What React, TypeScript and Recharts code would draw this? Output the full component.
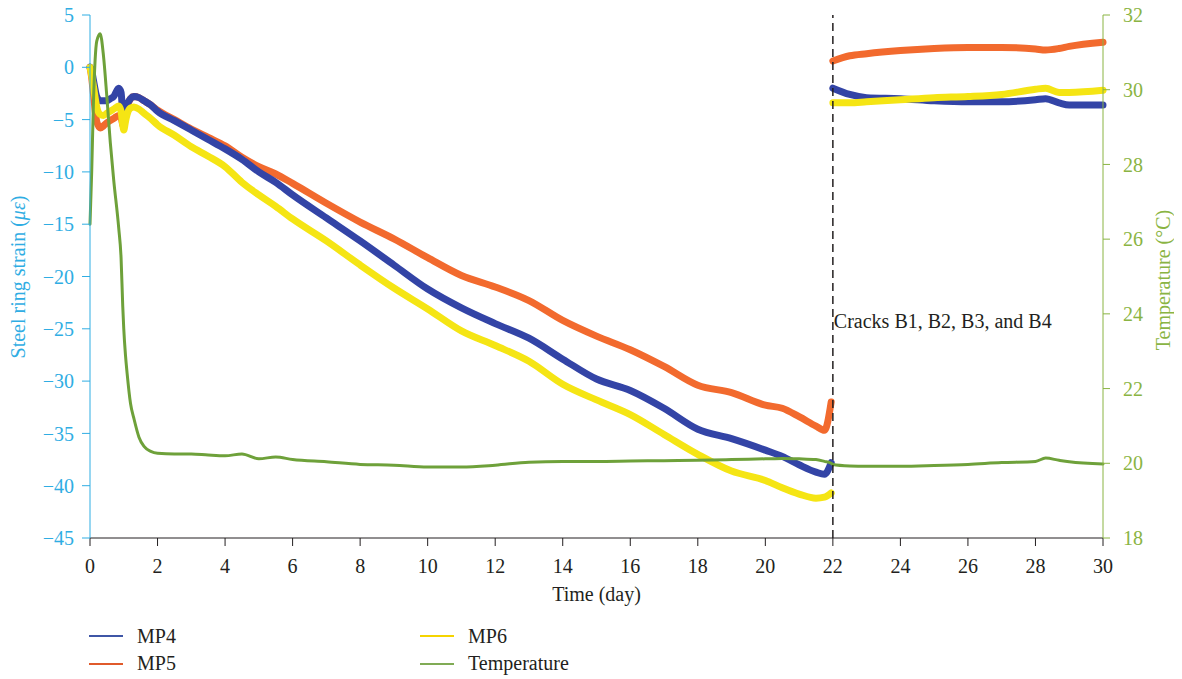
import React from "react";
import { LineChart, Line, XAxis, YAxis, ReferenceLine, Legend } from "recharts";

const times = [0, 0.05, 0.1, 0.2, 0.3, 0.4, 0.5, 0.6, 0.7, 0.85, 0.92, 0.97, 1.0, 1.05, 1.1, 1.2, 1.3, 1.45, 1.6, 1.8, 2, 2.5, 3, 3.5, 4, 4.5, 5, 5.5, 6, 7, 8, 9, 10, 11, 12, 13, 14, 15, 16, 17, 18, 19, 20, 20.5, 21, 21.5, 21.75, 21.95, 21.98, 22.0, 22.5, 23, 24, 25, 26, 27, 28, 28.3, 28.7, 29, 30];

const mp4 = [0, -0.3, -1.2, -2.8, -3.2, -3.2, -3.2, -3.0, -2.8, -2.0, -2.4, -4.5, -5.0, -4.3, -3.6, -3.0, -2.8, -2.9, -3.2, -3.6, -4.2, -5.1, -6.0, -6.9, -7.8, -8.8, -10.0, -11.0, -12.2, -14.4, -16.6, -18.9, -21.2, -23.0, -24.5, -25.9, -27.9, -29.8, -30.9, -32.6, -34.6, -35.5, -36.6, -37.2, -38.0, -38.7, -38.9, -37.8, null, -2.0, -2.6, -2.9, -3.0, -3.2, -3.3, -3.3, -3.1, -3.0, -3.4, -3.6, -3.6];

const mp5 = [0, -1.0, -2.5, -5.2, -5.8, -5.6, -5.3, -5.1, -4.9, -4.6, -4.8, -5.5, -5.7, -4.6, -3.8, -3.0, -2.8, -2.9, -3.2, -3.6, -4.1, -5.0, -5.9, -6.7, -7.5, -8.6, -9.5, -10.2, -11.1, -13.0, -14.8, -16.4, -18.2, -19.9, -21.0, -22.3, -24.2, -25.7, -27.0, -28.6, -30.4, -31.1, -32.3, -32.6, -33.4, -34.3, -34.7, -32.0, null, 0.6, 1.1, 1.3, 1.6, 1.8, 1.9, 1.9, 1.75, 1.65, 1.8, 2.0, 2.4];

const mp6 = [0, -0.8, -1.8, -3.8, -4.5, -4.6, -4.4, -4.2, -4.0, -3.7, -4.2, -5.5, -6.0, -5.2, -4.5, -3.9, -3.8, -4.0, -4.4, -4.9, -5.5, -6.5, -7.6, -8.5, -9.5, -11.0, -12.2, -13.3, -14.5, -16.6, -18.9, -21.1, -23.1, -25.2, -26.6, -28.1, -30.3, -31.8, -33.2, -35.1, -37.0, -38.6, -39.5, -40.2, -40.8, -41.2, -41.1, -40.7, null, -3.4, -3.4, -3.3, -3.1, -2.9, -2.8, -2.6, -2.1, -2.0, -2.4, -2.4, -2.2];

const temperature = [26.4, 27.8, 29.6, 31.3, 31.5, 30.9, 29.8, 28.6, 27.6, 26.3, 25.5, 24.2, 23.6, 22.9, 22.4, 21.6, 21.2, 20.7, 20.45, 20.32, 20.27, 20.25, 20.25, 20.22, 20.2, 20.25, 20.12, 20.17, 20.1, 20.04, 19.97, 19.95, 19.9, 19.9, 19.95, 20.03, 20.05, 20.05, 20.06, 20.07, 20.08, 20.1, 20.12, 20.13, 20.12, 20.1, 20.05, 20.0, 19.98, 19.97, 19.93, 19.92, 19.92, 19.94, 19.97, 20.02, 20.05, 20.14, 20.08, 20.04, 19.98];

const xTicks = [0, 2, 4, 6, 8, 10, 12, 14, 16, 18, 20, 22, 24, 26, 28, 30];
const strainTicks = [-45, -40, -35, -30, -25, -20, -15, -10, -5, 0, 5];
const tempTicks = [18, 20, 22, 24, 26, 28, 30, 32];
const crackDay = 22;
const crackText = "Cracks B1, B2, B3, and B4";

const seriesNames = ["MP4", "MP5", "MP6", "Temperature"];
const lineColors = { MP4: "#3344a6", MP5: "#f26a2e", MP6: "#f5e514", Temperature: "#6ea13a" };
const legendColors = { MP4: "#3f56a6", MP5: "#e05a2b", MP6: "#f5d400", Temperature: "#80ab55" };

const rows = times.map((t, i) => ({
  time: t,
  MP4: mp4[i],
  MP5: mp5[i],
  MP6: mp6[i],
  Temperature: temperature[i],
}));

const FONT = "'Liberation Serif', 'DejaVu Serif', serif";
const BLUE = "#2fade3";
const GREEN = "#8ab443";
const DARK = "#231f20";

const fmtMinus = (v: number) => String(v).replace("-", "\u2212");

const LegendContent = () => {
  const pos = [
    { left: 81, top: 28 },
    { left: 81, top: 55.5 },
    { left: 412, top: 28 },
    { left: 412, top: 55.5 },
  ];
  return (
    <div style={{ position: "relative", width: 1166, height: 71 }}>
      {seriesNames.map((n, i) => (
        <div
          key={n}
          style={{
            position: "absolute",
            left: pos[i].left,
            top: pos[i].top - 13,
            height: 26,
            display: "flex",
            alignItems: "center",
            fontFamily: FONT,
            fontSize: 20,
            color: DARK,
            whiteSpace: "nowrap",
          }}
        >
          <svg width={34} height={4} style={{ marginRight: 14 }}>
            <line x1={0} y1={2} x2={34} y2={2} stroke={(legendColors as any)[n]} strokeWidth={2} />
          </svg>
          <span>{n}</span>
        </div>
      ))}
    </div>
  );
};

const CrackLabel = (props: any) => {
  const vb = props.viewBox || { x: 0, y: 0 };
  return (
    <text x={vb.x + 1} y={vb.y + 313} fill={DARK} fontFamily={FONT} fontSize={20}>
      {crackText}
    </text>
  );
};

const LeftAxisLabel = () => (
  <text
    x={17}
    y={277}
    transform="rotate(-90 17 277)"
    textAnchor="middle"
    fill={BLUE}
    fontFamily={FONT}
    fontSize={20}
  >
    Steel ring strain (<tspan fontStyle="italic">με</tspan>)
  </text>
);

const RightAxisLabel = () => (
  <text
    x={1162}
    y={280}
    transform="rotate(-90 1162 280)"
    textAnchor="middle"
    fill={GREEN}
    fontFamily={FONT}
    fontSize={20}
  >
    Temperature (°C)
  </text>
);

const XAxisLabel = () => (
  <text x={588.5} y={601} textAnchor="middle" fill={DARK} fontFamily={FONT} fontSize={20}>
    Time (day)
  </text>
);

const lineCommon = {
  type: "monotone" as const,
  strokeLinejoin: "round" as const,
  strokeLinecap: "round" as const,
  dot: false,
  activeDot: false,
  connectNulls: false,
  isAnimationActive: false,
};

export default function App() {
  return (
    <div style={{ marginTop: -8, width: 1166, height: 679 }}>
      <LineChart
        width={1166}
        height={679}
        data={rows}
        margin={{ top: 15, right: 0, bottom: 0, left: 0 }}
      >
        <XAxis
          dataKey="time"
          type="number"
          domain={[0, 30]}
          ticks={xTicks}
          interval={0}
          height={70}
          stroke={DARK}
          tickSize={8}
          tickMargin={13}
          tick={{ fill: DARK, fontSize: 20, fontFamily: FONT }}
          label={<XAxisLabel />}
        />
        <YAxis
          yAxisId="left"
          domain={[-45, 5]}
          ticks={strainTicks}
          interval={0}
          width={82}
          stroke={BLUE}
          tickSize={8}
          tickMargin={8}
          tickFormatter={fmtMinus}
          tick={{ fill: BLUE, fontSize: 20, fontFamily: FONT }}
          label={<LeftAxisLabel />}
        />
        <YAxis
          yAxisId="right"
          orientation="right"
          domain={[18, 32]}
          ticks={tempTicks}
          interval={0}
          width={71}
          stroke={GREEN}
          tickSize={7}
          tickMargin={13}
          tick={{ fill: GREEN, fontSize: 20, fontFamily: FONT }}
          label={<RightAxisLabel />}
        />
        <Legend
          verticalAlign="bottom"
          align="left"
          height={71}
          wrapperStyle={{ left: 0, width: 1166, height: 71 }}
          content={<LegendContent />}
        />
        <Line yAxisId="left" dataKey="MP5" stroke={lineColors.MP5} strokeWidth={7} {...lineCommon} />
        <Line yAxisId="left" dataKey="MP4" stroke={lineColors.MP4} strokeWidth={7} {...lineCommon} />
        <Line yAxisId="left" dataKey="MP6" stroke={lineColors.MP6} strokeWidth={7} {...lineCommon} />
        <Line
          yAxisId="right"
          dataKey="Temperature"
          stroke={lineColors.Temperature}
          strokeWidth={3}
          {...lineCommon}
        />
        <ReferenceLine
          yAxisId="left"
          x={crackDay}
          stroke={DARK}
          strokeWidth={1.5}
          strokeDasharray="8 5"
          label={<CrackLabel />}
        />
      </LineChart>
    </div>
  );
}
